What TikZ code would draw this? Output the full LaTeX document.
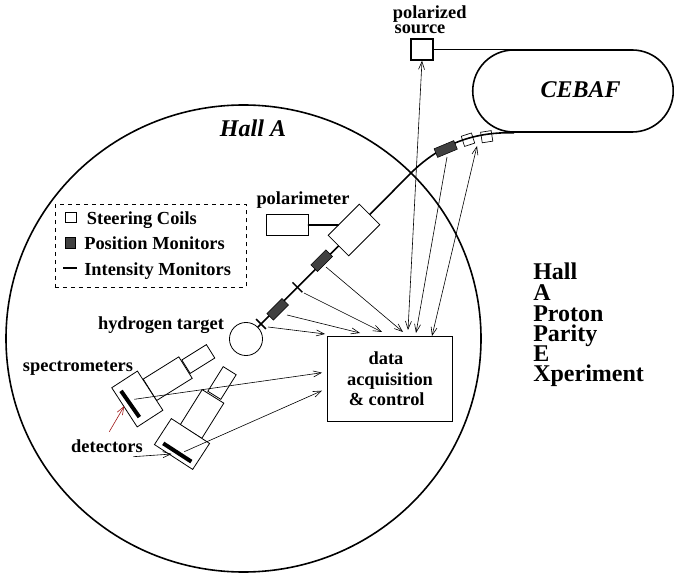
\documentclass[tikz,border=0pt]{standalone}
\usepackage{fontspec}
\setmainfont{Liberation Serif}
\usetikzlibrary{arrows.meta,positioning,shapes.misc,calc}
\definecolor{MonitorGray}{HTML}{404040}
\definecolor{ArrowRed}{HTML}{A01818}

\begin{document}
\begin{tikzpicture}[
        x=0.75pt, y=-0.75pt,
        beam/.style={line width=1.2pt, line cap=round, line join=round},
        sig/.style={line width=0.45pt, -{Straight Barb[length=6pt,width=4.5pt]}},
        sigboth/.style={line width=0.45pt, {Straight Barb[length=6pt,width=4.5pt]}-{Straight Barb[length=6pt,width=4.5pt]}},
        part/.style 2 args={draw, fill=white, line width=0.6pt, inner sep=0pt, minimum width=#1*0.75pt, minimum height=#2*0.75pt},
        coil/.style={draw, line width=0.5pt, inner sep=0pt, minimum size=8pt},
        posmon/.style={draw, fill=MonitorGray, line width=0.4pt, inner sep=0pt, minimum width=16pt, minimum height=7pt},
        intmon/.style={fill=black, inner sep=0pt, minimum width=10.5pt, minimum height=1.1pt},
        bar/.style={fill=black, inner sep=0pt, minimum width=#1*0.75pt, minimum height=3pt},
        label/.style={font=\fontsize{13.8}{15}\selectfont\bfseries, anchor=base, inner sep=0pt},
        title/.style={font=\fontsize{18}{20}\selectfont\bfseries\itshape, anchor=base, inner sep=0pt},
        word/.style={font=\fontsize{18}{20}\selectfont\bfseries, anchor=base west, inner sep=0pt}
    ]
        \useasboundingbox (0,0) rectangle (674,573);

        % Hall and accelerator
        \draw[beam] (243.5,338.5) ellipse (237.5 and 233.5);
        \node[rounded rectangle, draw, line width=1.2pt, inner sep=0pt, minimum width=150.4pt, minimum height=61.5pt] (cebaf) at (573,91) {};
        \node[title] (cebaftxt) at (580.7,97.7) {CEBAF};
        \node[title] (halltxt) at (253,136.7) {Hall A};
        \node[part={22}{21}, line width=1pt] (source) at (422,49.5) {};
        \draw[beam] (source.east) -- (source.east -| cebaf.north west);

        % Target and beam line
        \node[circle, draw, line width=0.6pt, inner sep=0pt, minimum size=24.8pt] (target) at (246,339) {};
        \coordinate (bend) at (412,172);
        \draw[beam] (target.45) -- (bend) .. controls (445,140) and (480,132) .. (cebaf.south west);

        % Beam line elements
        \node[part={44}{29}, rotate=45] (polbox) at (354,230) {};
        \node[part={41.3}{20.6}] (polarimeter) at (287.3,225) {};
        \draw[beam] (polarimeter.east) -- (polbox.west |- polarimeter.east);
        \node[posmon, rotate=45] (posa) at (277.7,309.3) {};
        \node[posmon, rotate=45] (posb) at (321.7,260.7) {};
        \node[posmon, rotate=22.6] (posc) at (445.7,149) {};
        \node[intmon, rotate=-45] (inta) at (261,324) {};
        \node[intmon, rotate=-45] (intb) at (297.5,287.3) {};
        \node[coil, rotate=18] (coila) at (468,139.7) {};
        \node[coil, rotate=9] (coilb) at (486.7,136.7) {};

        % Spectrometer arms
        \node[part={29}{15.8}, rotate=32] (tailup) at (198.3,359) {};
        \node[part={42}{25.3}, rotate=32] (midup) at (167.7,378.7) {};
        \node[part={30.6}{46.7}, rotate=33] (specup) at (137.3,399) {};
        \node[bar=32, rotate=-55] (detup) at (130.2,404) {};
        \node[part={15.3}{29}, rotate=-32] (taildown) at (222,383) {};
        \node[part={25.5}{41.5}, rotate=-32] (middown) at (202,414) {};
        \node[part={45.6}{31}, rotate=-33] (specdown) at (182,444) {};
        \node[bar=33.5, rotate=-33] (detdown) at (177.3,452.5) {};

        % Data acquisition
        \node[draw, line width=0.6pt, minimum width=94pt, minimum height=63.5pt, inner sep=0pt, align=center,
              font=\fontsize{13.8}{15.4}\selectfont\bfseries] (daq) at (390,379) {data\hspace*{6pt}\\acquisition\\\& control\hspace*{5pt}};

        % Signal lines
        \foreach \name/\x/\y in {fa/268/327,ta/325/334,fb/287/315,tb/360/333,fc/304/293,tc/382/332,fd/326/267,td/403/332,
                fe/447/157,te/416/333,ff/134.3/399.3,tf/322/372.7,fg/184.3/451.7,tg/322/390.7,
                fh/408/330,fi/432/336,ti/477/146,fj/133.3/456.7,tj/171.7/454,fk/109.3/431.7,tk/124.3/406} {
            \coordinate (\name) at (\x,\y);
        }
        \foreach \a/\b in {fa/ta,fb/tb,fc/tc,fd/td,fe/te,ff/tf,fg/tg,fj/tj} {
            \draw[sig] (\a) -- (\b);
        }
        \draw[sigboth] (fh) -- (source.south);
        \draw[sigboth] (fi) -- (ti);
        \draw[sig, ArrowRed] (fk) -- (tk);

        % Legend
        \node[draw, dashed, line width=0.5pt, minimum width=143.3pt, minimum height=62pt, inner sep=0pt] (legend) at (150.5,246) {};
        \node[coil] (legcoil) at (71,217.3) {};
        \node[coil, fill=MonitorGray] (legpos) at (70.3,243) {};
        \node[fill=black, inner sep=0pt, minimum width=11pt, minimum height=1.2pt] (legint) at (70,268.3) {};
        \node[label, anchor=base west] (legcoiltxt) at (86.7,224.3) {Steering Coils};
        \node[label, anchor=base west] (legpostxt) at (84,250) {Position Monitors};
        \node[label, anchor=base west] (leginttxt) at (84,276) {Intensity Monitors};

        % Labels
        \node[label] (polarized) at (429.7,18.3) {polarized};
        \node[label] (sourcetxt) at (420,34) {source};
        \node[label] (poltxt) at (303,205) {polarimeter};
        \node[label] (targettxt) at (161,329.3) {hydrogen target};
        \node[label] (spectxt) at (78,371) {spectrometers};
        \node[label] (dettxt) at (107,452.3) {detectors};

        % Experiment name
        \foreach \txt/\y in {Hall/280,A/300.5,Proton/321,Parity/341,E/361,Xperiment/381} {
            \node[word] (name\txt) at (533,\y) {\txt};
        }
    \end{tikzpicture}
\end{document}
